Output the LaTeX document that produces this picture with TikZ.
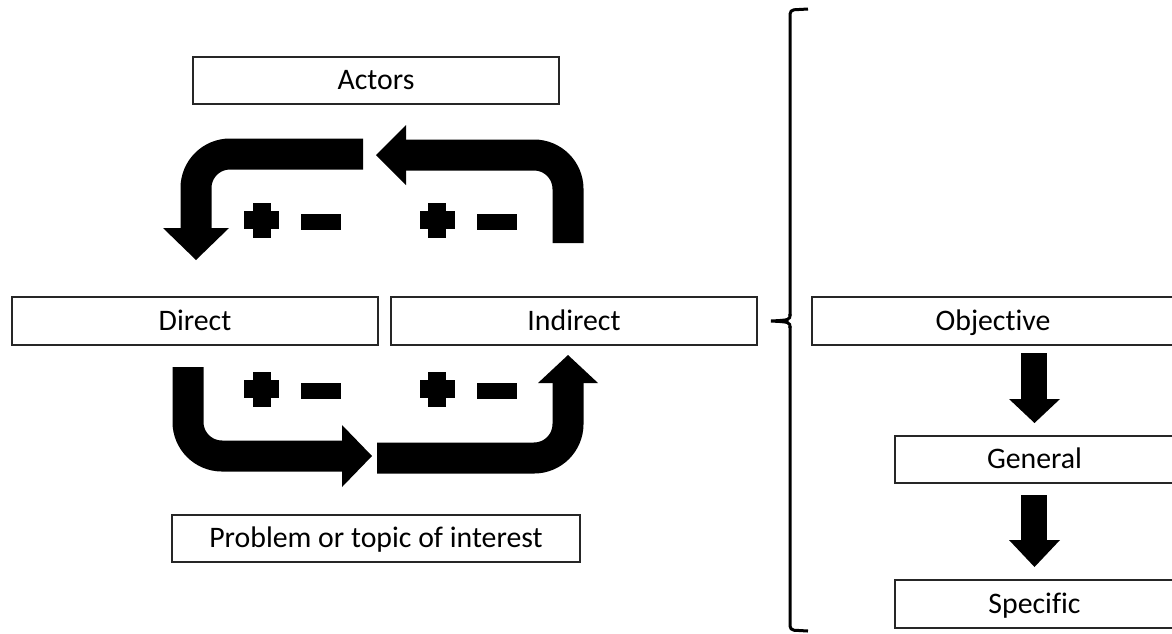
\documentclass[tikz,border=0pt]{standalone}
\usepackage{fontspec}
\setmainfont{Carlito}[Ligatures=NoCommon]
\begin{document}
\begin{tikzpicture}[x=1pt,y=-1pt,
  box/.style={draw=black!85, line width=1.2pt, rectangle, inner sep=0pt,
    text height=24pt, text depth=6pt,
    font=\fontsize{29.8}{33}\selectfont},
  shaft/.style={line width=31pt, rounded corners=34pt},
  head/.style={fill=black},
  plussign/.pic={\fill (-17.5,-9) rectangle (17.5,9); \fill (-9,-17.5) rectangle (9,17.5);},
  minussign/.pic={\fill (-20,-8) rectangle (20,8);}]
\fill[white] (0,0) rectangle (1172,633);
\useasboundingbox (0,0) rectangle (1172,633);

% boxes
\node[box, minimum width=366pt, minimum height=47pt] (actors) at (376,80.5) {Actors};
\node[box, minimum width=366pt, minimum height=48pt] (direct) at (195,321) {Direct};
\node[box, minimum width=366pt, minimum height=48pt] (indirect) at (574,321) {Indirect};
\node[box, minimum width=408pt, minimum height=47pt] (problem) at (376,538.5) {Problem or topic of interest};
\node[box, minimum width=362pt, minimum height=48pt] (objective) at (993,321) {Objective};
\node[box, minimum width=279pt, minimum height=47pt] (general) at (1034.5,459.5) {General};
\node[box, minimum width=279pt, minimum height=48pt] (specific) at (1034.5,604) {Specific};

% upper loop: Indirect back to Direct
\coordinate (a1s) at (363,154);
\coordinate (a1e) at (196,228);
\draw[shaft] (a1s) -- (a1e |- a1s) -- (a1e);
\fill[head] (163,228) -- (229,228) -- (196,260) -- cycle;

\coordinate (a2s) at (568,243);
\coordinate (a2e) at (406,155);
\draw[shaft] (a2s) -- (a2s |- a2e) -- (a2e);
\fill[head] (406,125) -- (406,185) -- (376,155) -- cycle;

% lower loop: Direct to Indirect
\coordinate (a3s) at (188,367);
\coordinate (a3e) at (342,456);
\draw[shaft] (a3s) -- (a3s |- a3e) -- (a3e);
\fill[head] (342,425) -- (342,487) -- (372,456) -- cycle;

\coordinate (a4s) at (377,458);
\coordinate (a4e) at (568,383);
\draw[shaft] (a4s) -- (a4e |- a4s) -- (a4e);
\fill[head] (538,383) -- (598,383) -- (568,355) -- cycle;

% signs
\pic at (261.5,220) {plussign};
\pic at (321,222) {minussign};
\pic at (437,220) {plussign};
\pic at (497,222) {minussign};
\pic at (261.5,389) {plussign};
\pic at (321,390.5) {minussign};
\pic at (437,389) {plussign};
\pic at (497,390.5) {minussign};

% objective chain
\fill (1021,353) rectangle (1047,399);
\fill[head] (1009,399) -- (1060,399) -- (1034.5,423) -- cycle;
\fill (1021,495) rectangle (1047,540);
\fill[head] (1009,540) -- (1060,540) -- (1034.5,567) -- cycle;

% brace
\draw[line width=3pt, rounded corners=4pt] (808,9) -- (790,10) -- (790,316);
\draw[line width=3pt] (790,314) .. controls (790,320) .. (771,321) .. controls (790,322) .. (790,328);
\draw[line width=3pt, rounded corners=4pt] (790,326) -- (790,630) -- (808,631);
\end{tikzpicture}
\end{document}
